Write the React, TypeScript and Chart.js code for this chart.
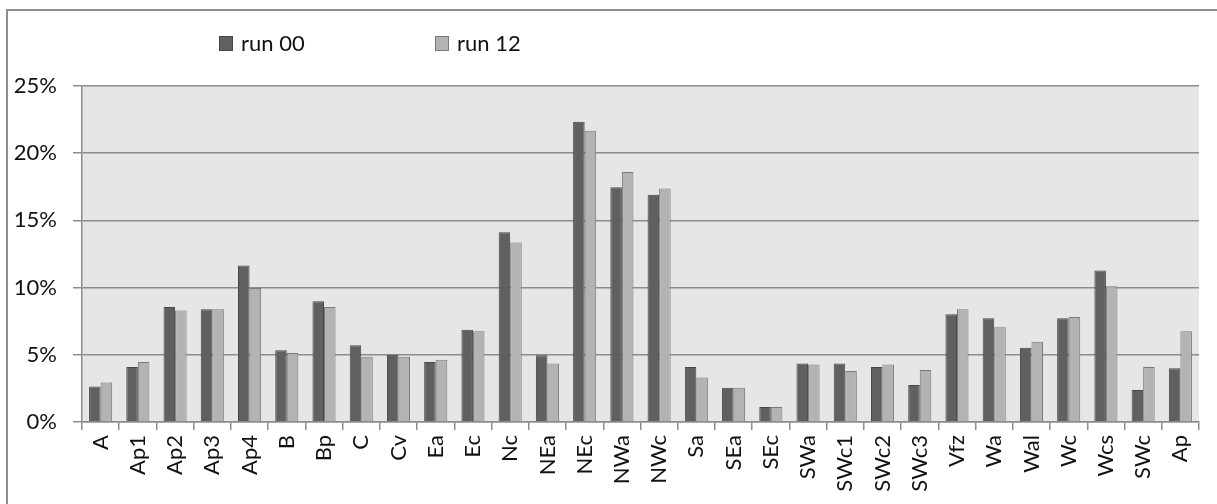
import React, { useEffect, useRef } from "react";
import { Chart, registerables } from "chart.js";

Chart.register(...registerables);

const categories = [
  "A", "Ap1", "Ap2", "Ap3", "Ap4", "B", "Bp", "C", "Cv", "Ea", "Ec", "Nc", "NEa", "NEc",
  "NWa", "NWc", "Sa", "SEa", "SEc", "SWa", "SWc1", "SWc2", "SWc3", "Vfz", "Wa", "Wal",
  "Wc", "Wcs", "SWc", "Ap",
];
const run00 = [
  2.65, 4.09, 8.56, 8.39, 11.64, 5.33, 8.98, 5.71, 5.01, 4.47, 6.87, 14.12, 4.96, 22.34,
  17.47, 16.9, 4.09, 2.55, 1.11, 4.36, 4.36, 4.09, 2.75, 8.01, 7.72, 5.53, 7.72, 11.27,
  2.38, 3.99,
];
const run12 = [
  2.93, 4.47, 8.29, 8.39, 9.97, 5.13, 8.56, 4.86, 4.86, 4.64, 6.75, 13.35, 4.36, 21.67,
  18.61, 17.37, 3.32, 2.55, 1.11, 4.27, 3.79, 4.27, 3.87, 8.39, 7.05, 5.98, 7.82, 10.1,
  4.09, 6.75,
];
const seriesNames = ["run 00", "run 12"];
const yTicks = [0, 5, 10, 15, 20, 25];

const FONT = "Lato, 'Open Sans', sans-serif";
const GRID = "#8c8c8c";

const decorPlugin = {
  id: "decor",
  beforeDraw(chart: any) {
    const { ctx, chartArea } = chart;
    ctx.save();
    ctx.fillStyle = "#ffffff";
    ctx.fillRect(0, 0, chart.width, chart.height);
    ctx.strokeStyle = "#8f8f8f";
    ctx.lineWidth = 2;
    ctx.strokeRect(7, 10, chart.width + 50, chart.height + 50);
    ctx.fillStyle = "#e6e6e6";
    ctx.fillRect(chartArea.left, chartArea.top, chartArea.right - chartArea.left, chartArea.bottom - chartArea.top);
    ctx.restore();
  },
  afterDraw(chart: any) {
    const { ctx } = chart;
    const positions = [219, 435];
    ctx.save();
    ctx.font = `22px ${FONT}`;
    ctx.textBaseline = "middle";
    chart.data.datasets.forEach((ds: any, i: number) => {
      const x = positions[i];
      const y = 36;
      ctx.fillStyle = ds.backgroundColor;
      ctx.fillRect(x, y, 14, 15);
      ctx.strokeStyle = ds.borderColor;
      ctx.lineWidth = 1;
      ctx.strokeRect(x + 0.5, y + 0.5, 13, 14);
      ctx.fillStyle = "#111";
      ctx.fillText(ds.label, x + 22, y + 8);
    });
    ctx.restore();
  },
};

export default function App() {
  const ref = useRef<HTMLCanvasElement | null>(null);
  useEffect(() => {
    if (!ref.current) return;
    const chart = new Chart(ref.current, {
      type: "bar",
      data: {
        labels: categories,
        datasets: [
          {
            label: seriesNames[0],
            data: run00,
            backgroundColor: "#606060",
            borderColor: "#474747",
            borderWidth: 1,
            categoryPercentage: 0.62,
            barPercentage: 1.0,
          },
          {
            label: seriesNames[1],
            data: run12,
            backgroundColor: "#b3b3b3",
            borderColor: "#7a7a7a",
            borderWidth: 1,
            categoryPercentage: 0.62,
            barPercentage: 1.0,
          },
        ],
      },
      options: {
        responsive: false,
        animation: false,
        layout: { padding: { top: 86, right: 18, bottom: 0, left: 0 } },
        plugins: {
          legend: { display: false },
          tooltip: { enabled: false },
        },
        scales: {
          x: {
            grid: {
              offset: true,
              drawOnChartArea: false,
              drawTicks: true,
              tickLength: 8,
              color: GRID,
              lineWidth: 1.5,
            },
            border: { display: true, color: GRID, width: 1.5 },
            ticks: {
              minRotation: 90,
              maxRotation: 90,
              autoSkip: false,
              padding: 5,
              color: "#111",
              font: { family: FONT, size: 22 },
            },
            afterFit(scale: any) {
              scale.height = 82;
            },
          },
          y: {
            min: 0,
            max: 25,
            afterBuildTicks(scale: any) {
              scale.ticks = yTicks.map((v) => ({ value: v }));
            },
            grid: {
              color: GRID,
              lineWidth: 1.5,
              drawTicks: true,
              tickLength: 9,
            },
            border: { display: true, color: GRID, width: 1.5 },
            ticks: {
              padding: 16,
              color: "#111",
              font: { family: FONT, size: 22 },
              callback: (v: any) => `${v}%`,
            },
            afterFit(scale: any) {
              scale.width = 82;
            },
          },
        },
      },
      plugins: [decorPlugin],
    });
    return () => chart.destroy();
  }, []);
  return (
    <div style={{ position: "fixed", left: 0, top: 0, width: 1217, height: 504 }}>
      <canvas ref={ref} width={1217} height={504} />
    </div>
  );
}
